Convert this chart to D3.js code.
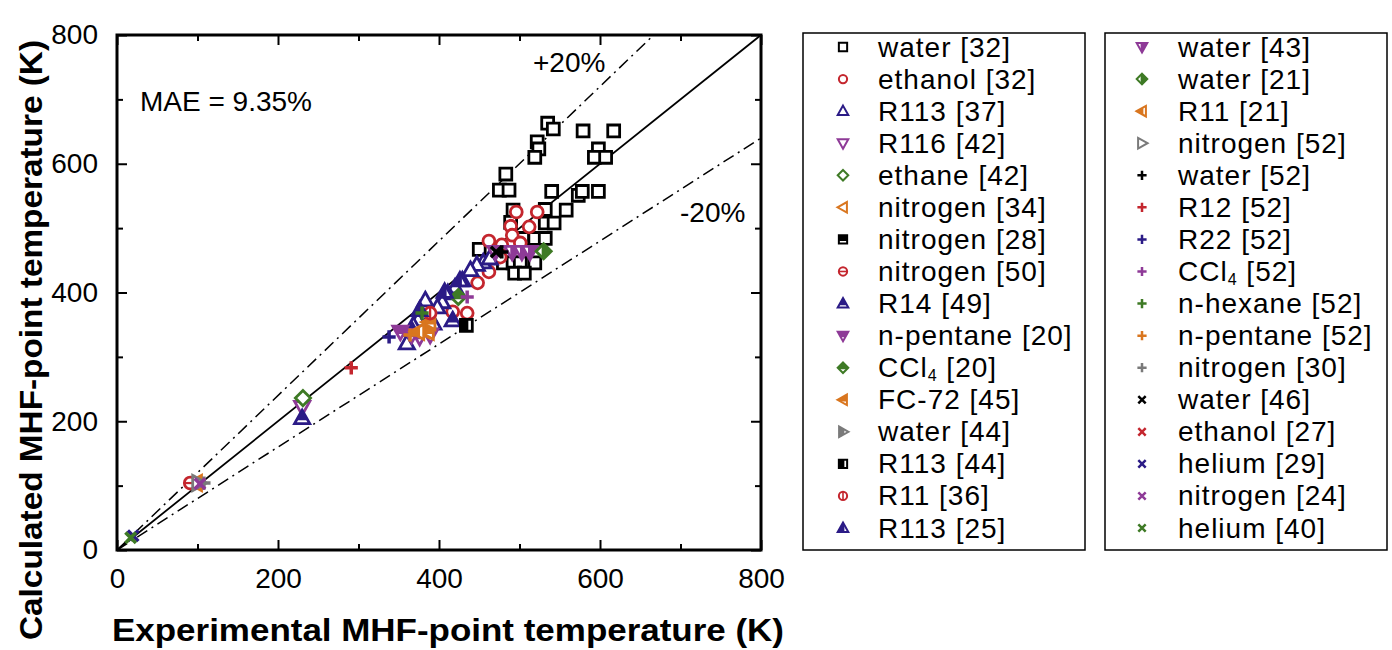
<!DOCTYPE html>
<html>
<head>
<meta charset="utf-8">
<script src="https://cdn.jsdelivr.net/npm/d3@7"></script>
<style>
  body { margin: 0; background: #fff; }
  text { font-family: Arial, "Liberation Sans", sans-serif; fill: #000; }
</style>
</head>
<body>
<div id="chart"></div>
<script>
// ---- data (experimental vs calculated MHF-point temperature, K) ----
const water32 = [[535,663],[542,654],[579,651],[617,651],[522,634],[524,623],[519,610],[598,623],[593,610],[607,610],
  [483,584],[475,559],[487,559],[540,557],[573,551],[578,557],[598,557],[558,528],[532,529],[492,528],[532,508],
  [543,508],[489,509],[450,467],[504,484],[519,484],[532,484],[480,446],[492,446],[501,446],[519,446],[494,430],[506,430]];
const ethanol32 = [[496,525],[522,525],[489,503],[512,502],[491,489],[462,480],[478,474],[501,477],[476,455],
  [462,432],[448,415],[417,370],[435,368]];
const r113_37 = [[455,447],[447,443],[439,435],[429,419],[420,408],[411,399],[404,385],[398,377],[389,360],
  [374,357],[368,349],[393,352],[360,321],[383,388],[463,453]];
const r116_42 = [[230,222]];
const ethane42 = [[231,236]];
const nitrogen34 = [[98,104]];
const nitrogen28 = [];
const nitrogen50 = [[91,104]];
const r14_49 = [[230,205],[417,357],[366,342]];
const npentane20 = [[352,339],[366,334],[376,331],[389,334]];
const ccl4_20 = [[424,393]];
const fc72_45 = [[380,342],[386,339],[388,354]];
const water44 = [];
const r113_44 = [[434,349]];
const r11_36 = [[389,368]];
const r113_25 = [[407,401],[426,419],[376,373]];
const water43 = [[470,463],[491,463],[503,463],[513,463]];
const water21 = [[530,464]];
const r11_21 = [[374,339]];
const nitrogen52 = [[101,104]];
const water52 = [[478,463]];
const r12_52 = [[291,283]];
const r22_52 = [[338,331]];
const ccl4_52 = [[435,393]];
const nhexane52 = [[379,368]];
const npentane52 = [[364,334]];
const nitrogen30 = [[108,104]];
const water46 = [[471,463]];
const ethanol27 = [];
const helium29 = [[20,22]];
const nitrogen24 = [[103,103]];
const helium40 = [[17,19]];

const seriesNames = ["water [32]","ethanol [32]","R113 [37]","R116 [42]","ethane [42]","nitrogen [34]","nitrogen [28]",
  "nitrogen [50]","R14 [49]","n-pentane [20]","CCl4 [20]","FC-72 [45]","water [44]","R113 [44]","R11 [36]","R113 [25]",
  "water [43]","water [21]","R11 [21]","nitrogen [52]","water [52]","R12 [52]","R22 [52]","CCl4 [52]","n-hexane [52]",
  "n-pentane [52]","nitrogen [30]","water [46]","ethanol [27]","helium [29]","nitrogen [24]","helium [40]"];
const seriesPoints = [water32, ethanol32, r113_37, r116_42, ethane42, nitrogen34, nitrogen28, nitrogen50, r14_49,
  npentane20, ccl4_20, fc72_45, water44, r113_44, r11_36, r113_25, water43, water21, r11_21, nitrogen52, water52,
  r12_52, r22_52, ccl4_52, nhexane52, npentane52, nitrogen30, water46, ethanol27, helium29, nitrogen24, helium40];
const majorTicks = [0, 200, 400, 600, 800];
const minorTicks = [100, 300, 500, 700];

// ---- marker styles ----
const C = { k: "#000", r: "#c4262e", b: "#2b1b86", p: "#8e3a97", g: "#3e7a25", o: "#d9761f", y: "#7a7a7a" };
const seriesShape = ["square","circle","triUp","triDown","diamond","triLeft","square","circle","triUp","triDown",
  "diamond","triLeft","triRight","square","circle","triUp","triDown","diamond","triLeft","triRight",
  "plus","plus","plus","plus","plus","plus","plus","cross","cross","cross","cross","cross"];
const seriesColor = ["k","r","b","p","g","o","k","r","b","p","g","o","y","k","r","b","p","g","o","y",
  "k","r","b","p","g","o","y","k","r","b","p","g"];
const seriesFill = ["open","open","open","open","open","open","top","hline","top","top","top","top","left","left",
  "vline","left","right","right","left","open","","","","","","","","","","","",""];

const shapePaths = {
  square: "M-0.9,-0.9H0.9V0.9H-0.9Z",
  circle: "M0.9,0A0.9,0.9 0 1,1 -0.9,0A0.9,0.9 0 1,1 0.9,0Z",
  triUp: "M0,-1.2L1.15,0.85L-1.15,0.85Z",
  triDown: "M0,1.2L1.15,-0.85L-1.15,-0.85Z",
  triLeft: "M-1.2,0L0.85,-1.15L0.85,1.15Z",
  triRight: "M1.2,0L-0.85,-1.15L-0.85,1.15Z",
  diamond: "M0,-1.15L1.15,0L0,1.15L-1.15,0Z",
  plus: "M-1,0H1M0,-1V1",
  cross: "M-0.8,-0.8L0.8,0.8M-0.8,0.8L0.8,-0.8"
};

const W = 1392, H = 650;
const margin = { top: 35, left: 117 };
const pw = 644, ph = 515;

const svg = d3.select("#chart").append("svg").attr("width", W).attr("height", H);

const defs = svg.append("defs");
[["top", -2, -2, 4, 2.35], ["left", -2, -2, 2.3, 4], ["right", -0.3, -2, 2.3, 4]].forEach(c => {
  defs.append("clipPath").attr("id", "clip-" + c[0]).attr("clipPathUnits", "userSpaceOnUse")
    .append("rect").attr("x", c[1]).attr("y", c[2]).attr("width", c[3]).attr("height", c[4]);
});

function addMarker(parent, cx, cy, i, r, sw) {
  const shape = seriesShape[i], col = C[seriesColor[i]], fill = seriesFill[i];
  const g = parent.append("g").attr("transform", `translate(${cx},${cy}) scale(${r})`);
  const d = shapePaths[shape];
  if (shape === "plus" || shape === "cross") {
    g.append("path").attr("d", d).attr("fill", "none").attr("stroke", col)
      .attr("stroke-width", sw * 1.25).attr("vector-effect", "non-scaling-stroke");
    return;
  }
  g.append("path").attr("d", d).attr("fill", "#fff").attr("stroke", col)
    .attr("stroke-width", sw).attr("stroke-linejoin", "miter").attr("vector-effect", "non-scaling-stroke");
  if (fill === "top" || fill === "left" || fill === "right") {
    g.append("path").attr("d", d).attr("fill", col).attr("clip-path", `url(#clip-${fill})`);
  } else if (fill === "hline") {
    g.append("path").attr("d", "M-0.9,0H0.9").attr("stroke", col).attr("stroke-width", sw * 0.8)
      .attr("vector-effect", "non-scaling-stroke");
  } else if (fill === "vline") {
    g.append("path").attr("d", "M0,-0.9V0.9").attr("stroke", col).attr("stroke-width", sw * 0.8)
      .attr("vector-effect", "non-scaling-stroke");
  }
}

// ---- plot ----
const plot = svg.append("g").attr("transform", `translate(${margin.left},${margin.top})`);
const x = d3.scaleLinear().domain([0, 800]).range([0, pw]);
const y = d3.scaleLinear().domain([0, 800]).range([ph, 0]);

// reference lines
plot.append("line").attr("x1", x(0)).attr("y1", y(0)).attr("x2", x(800)).attr("y2", y(800))
  .attr("stroke", "#000").attr("stroke-width", 1.8);
plot.append("line").attr("x1", x(0)).attr("y1", y(0)).attr("x2", x(800 / 1.2)).attr("y2", y(800))
  .attr("stroke", "#000").attr("stroke-width", 1.5).attr("stroke-dasharray", "12,5,2,5");
plot.append("line").attr("x1", x(0)).attr("y1", y(0)).attr("x2", x(800)).attr("y2", y(640))
  .attr("stroke", "#000").attr("stroke-width", 1.5).attr("stroke-dasharray", "12,5,2,5");

// points
seriesPoints.forEach((pts, i) => {
  const layer = plot.append("g");
  pts.forEach(p => addMarker(layer, x(p[0]), y(p[1]), i, 6.6, 2.8));
});

// axes
function styleAxis(g) {
  g.select(".domain").remove();
  g.selectAll(".tick line").attr("stroke", "#000").attr("stroke-width", 2);
  g.selectAll(".tick text").style("font-size", "28px").attr("fill", "#000");
}
plot.append("g").attr("transform", `translate(0,${ph})`)
  .call(d3.axisBottom(x).tickValues(majorTicks).tickSize(-10).tickPadding(13).tickFormat(d3.format("d")))
  .call(styleAxis).selectAll(".tick text").attr("dy", "0.9em");
plot.append("g").attr("transform", `translate(0,${ph})`)
  .call(d3.axisBottom(x).tickValues(minorTicks).tickSize(-6).tickFormat("")).call(styleAxis);
plot.append("g")
  .call(d3.axisLeft(y).tickValues(majorTicks).tickSize(-10).tickPadding(19).tickFormat(d3.format("d")))
  .call(styleAxis);
plot.append("g").call(d3.axisLeft(y).tickValues(minorTicks).tickSize(-6).tickFormat("")).call(styleAxis);
plot.append("g").call(d3.axisTop(x).tickValues(majorTicks).tickSize(-10).tickFormat("")).call(styleAxis);
plot.append("g").call(d3.axisTop(x).tickValues(minorTicks).tickSize(-6).tickFormat("")).call(styleAxis);
plot.append("g").attr("transform", `translate(${pw},0)`)
  .call(d3.axisRight(y).tickValues(majorTicks).tickSize(-10).tickFormat("")).call(styleAxis);
plot.append("g").attr("transform", `translate(${pw},0)`)
  .call(d3.axisRight(y).tickValues(minorTicks).tickSize(-6).tickFormat("")).call(styleAxis);

plot.append("rect").attr("width", pw).attr("height", ph).attr("fill", "none")
  .attr("stroke", "#000").attr("stroke-width", 3);

// annotations
plot.append("text").attr("x", 23).attr("y", 76).style("font-size", "28px").text("MAE = 9.35%");
plot.append("text").attr("x", 416).attr("y", 37).style("font-size", "28px").text("+20%");
plot.append("text").attr("x", 563).attr("y", 187).style("font-size", "28px").text("-20%");

// axis titles
svg.append("text").attr("x", 448).attr("y", 641).attr("text-anchor", "middle")
  .attr("textLength", 672).attr("lengthAdjust", "spacingAndGlyphs")
  .style("font-size", "32px").style("font-weight", "bold").text("Experimental MHF-point temperature (K)");
svg.append("text").attr("transform", "translate(42,340) rotate(-90)").attr("text-anchor", "middle")
  .attr("textLength", 600).attr("lengthAdjust", "spacingAndGlyphs")
  .style("font-size", "32px").style("font-weight", "bold").text("Calculated MHF-point temperature (K)");

// ---- legend ----
const boxes = [{ x: 803, mx: 843, tx: 878 }, { x: 1105, mx: 1142, tx: 1178 }];
boxes.forEach(b => {
  svg.append("rect").attr("x", b.x).attr("y", 33).attr("width", 282).attr("height", 517)
    .attr("fill", "none").attr("stroke", "#000").attr("stroke-width", 1.5);
});
seriesNames.forEach((name, i) => {
  const b = boxes[Math.floor(i / 16)];
  const cy = 47 + (i % 16) * 32.07;
  addMarker(svg, b.mx, cy, i, 4.6, 2);
  const t = svg.append("text").attr("x", b.tx).attr("y", cy + 9.5)
    .style("font-size", "28px").style("letter-spacing", "1px");
  const m = name.match(/^CCl4(.*)$/);
  if (m) {
    t.append("tspan").text("CCl");
    t.append("tspan").attr("dy", 4).style("font-size", "16px").text("4");
    t.append("tspan").attr("dy", -4).text(m[1]);
  } else {
    t.text(name);
  }
});
</script>
</body>
</html>
